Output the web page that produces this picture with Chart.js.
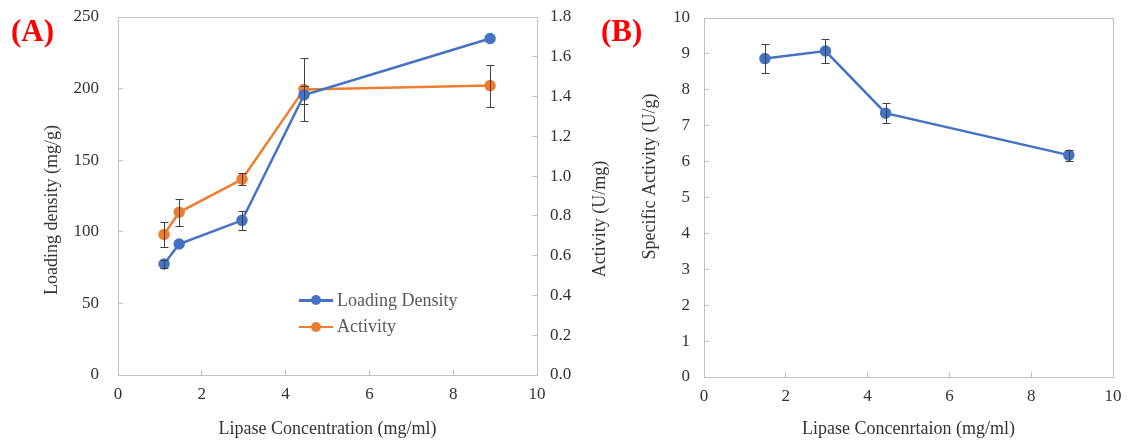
<!DOCTYPE html>
<html>
<head>
<meta charset="utf-8">
<script src="https://cdn.jsdelivr.net/npm/chart.js@4"></script>
<style>
    body { margin: 0; background: #fff; }
    #wrap { position: relative; width: 1134px; height: 440px; overflow: hidden; }
    canvas { position: absolute; top: 0; }
    .tag { position: absolute; font-family: "Liberation Serif", serif; font-weight: bold; font-size: 31px; color: #ff0000; line-height: 1; }
    .legend { position: absolute; left: 299px; top: 287px; font-family: "Liberation Serif", serif; font-size: 18px; color: #595959; }
    .legend .row { display: flex; align-items: center; height: 26.5px; }
    .legend .key { position: relative; width: 34px; height: 2.5px; margin-right: 4px; }
    .legend .key span { position: absolute; left: 12px; top: -4px; width: 10px; height: 10px; border-radius: 50%; }
</style>
</head>
<body>
<div id="wrap">
    <canvas id="chartA" width="620" height="440" style="left:0"></canvas>
    <canvas id="chartB" width="544" height="440" style="left:590px"></canvas>
    <div class="tag" style="left:11px; top:15px">(A)</div>
    <div class="tag" style="left:601px; top:15px">(B)</div>
    <div class="legend">
        <div class="row"><div class="key" style="background:#4472c4"><span style="background:#4472c4"></span></div>Loading Density</div>
        <div class="row"><div class="key" style="background:#ed7d31"><span style="background:#ed7d31"></span></div>Activity</div>
    </div>
</div>
<script>
// Panel A data
const concA = [1.1, 1.46, 2.96, 4.44, 8.88];
const loadingDensity = [77.5, 91.5, 108, 195.5, 235];
const loadingErr = [3, 0, 6.7, 6.3, 0];
const activity = [0.707, 0.818, 0.984, 1.436, 1.455];
const activityErr = [0.062, 0.068, 0.03, 0.157, 0.105];

// Panel B data
const concB = [1.49, 2.97, 4.44, 8.92];
const specificActivity = [8.87, 9.08, 7.35, 6.18];
const specificErr = [0.4, 0.34, 0.28, 0.15];

const serif = '"Liberation Serif", "Times New Roman", serif';
const tickFont = { family: serif, size: 17 };
const titleFont = { family: serif, size: 18 };
const textColor = '#333333';
const axisGray = '#bfbfbf';

const toPoints = (xs, ys) => xs.map((x, i) => ({ x: x, y: ys[i] }));

// Error bars drawn from the scales
const errorBars = {
    id: 'errorBars',
    afterDatasetsDraw(chart) {
        const ctx = chart.ctx;
        const xs = chart.scales.x;
        chart.data.datasets.forEach(ds => {
            if (!ds.errors) return;
            const ys = chart.scales[ds.yAxisID || 'y'];
            ctx.save();
            ctx.strokeStyle = '#404040';
            ctx.lineWidth = 1;
            ds.data.forEach((p, j) => {
                const e = ds.errors[j];
                if (!e) return;
                const px = Math.round(xs.getPixelForValue(p.x)) + 0.5;
                const top = Math.round(ys.getPixelForValue(p.y + e)) + 0.5;
                const bot = Math.round(ys.getPixelForValue(p.y - e)) + 0.5;
                ctx.beginPath();
                ctx.moveTo(px, top); ctx.lineTo(px, bot);
                ctx.moveTo(px - 4, top); ctx.lineTo(px + 4, top);
                ctx.moveTo(px - 4, bot); ctx.lineTo(px + 4, bot);
                ctx.stroke();
            });
            ctx.restore();
        });
    }
};

// Box round the plot area
const frame = {
    id: 'frame',
    beforeDatasetsDraw(chart) {
        const a = chart.chartArea;
        const ctx = chart.ctx;
        ctx.save();
        ctx.strokeStyle = axisGray;
        ctx.lineWidth = 1;
        ctx.strokeRect(Math.round(a.left) + 0.5, Math.round(a.top) + 0.5, Math.round(a.right - a.left), Math.round(a.bottom - a.top));
        ctx.restore();
    }
};

// Vertical axis titles, reading upward, a bit off centre like the original
const sideTitles = {
    id: 'sideTitles',
    afterDraw(chart, args, opts) {
        const ctx = chart.ctx;
        const mid = (chart.chartArea.top + chart.chartArea.bottom) / 2;
        (opts.items || []).forEach(t => {
            ctx.save();
            ctx.translate(t.x, mid + t.dy);
            ctx.rotate(-Math.PI / 2);
            ctx.font = titleFont.size + 'px ' + serif;
            ctx.fillStyle = textColor;
            ctx.textAlign = 'center';
            ctx.textBaseline = 'middle';
            ctx.fillText(t.text, 0, 0);
            ctx.restore();
        });
    }
};

const gridOpts = { drawOnChartArea: false, tickLength: -5, color: axisGray };
const borderOpts = { color: axisGray };

// Fixed axis sizes, no extra label padding
const fixWidth = w => scale => { scale.width = w; scale.paddingTop = 0; scale.paddingBottom = 0; };
const fixHeight = h => scale => { scale.height = h; scale.paddingLeft = 0; scale.paddingRight = 0; };

const lineSet = (label, data, color, errors, axis) => ({
    label: label,
    data: data,
    errors: errors,
    yAxisID: axis,
    borderColor: color,
    backgroundColor: color,
    pointBackgroundColor: color,
    pointBorderColor: color,
    borderWidth: 2.5,
    pointRadius: 4.5,
    lineTension: 0
});

const xAxis = (height, text) => ({
    type: 'linear',
    min: 0,
    max: 10,
    ticks: { stepSize: 2, font: tickFont, color: textColor, padding: 14 },
    grid: gridOpts,
    border: borderOpts,
    title: { display: true, text: text, font: titleFont, color: textColor, padding: { top: 0, bottom: 0 } },
    afterFit: fixHeight(height)
});

// CHART A
const chartA = new Chart('chartA', {
    type: 'line',
    data: {
        datasets: [
            lineSet('Loading Density', toPoints(concA, loadingDensity), '#4472c4', loadingErr, 'y'),
            lineSet('Activity', toPoints(concA, activity), '#ed7d31', activityErr, 'y1')
        ]
    },
    options: {
        responsive: false,
        animation: false,
        devicePixelRatio: 1,
        layout: { padding: { top: 17, left: 0, right: 0, bottom: 0 } },
        scales: {
            x: xAxis(65, 'Lipase Concentration (mg/ml)'),
            y: {
                position: 'left',
                min: 0,
                max: 250,
                ticks: { stepSize: 50, font: tickFont, color: textColor, padding: 24 },
                grid: gridOpts,
                border: borderOpts,
                afterFit: fixWidth(118)
            },
            y1: {
                position: 'right',
                min: 0,
                max: 1.8,
                ticks: { stepSize: 0.2, font: tickFont, color: textColor, padding: 18, callback: v => v.toFixed(1) },
                grid: gridOpts,
                border: borderOpts,
                afterFit: fixWidth(83)
            }
        },
        plugins: {
            legend: { display: false },
            tooltip: { enabled: false },
            sideTitles: {
                items: [
                    { text: 'Loading density (mg/g)', x: 52, dy: 14 },
                    { text: 'Activity (U/mg)', x: 600, dy: 23 }
                ]
            }
        }
    },
    plugins: [frame, errorBars, sideTitles]
});

// CHART B
const chartB = new Chart('chartB', {
    type: 'line',
    data: {
        datasets: [
            lineSet('Specific Activity', toPoints(concB, specificActivity), '#4472c4', specificErr, 'y')
        ]
    },
    options: {
        responsive: false,
        animation: false,
        devicePixelRatio: 1,
        layout: { padding: { top: 18, left: 0, right: 21, bottom: 0 } },
        scales: {
            x: xAxis(63, 'Lipase Concenrtaion (mg/ml)'),
            y: {
                position: 'left',
                min: 0,
                max: 10,
                ticks: { stepSize: 1, font: tickFont, color: textColor, padding: 19 },
                grid: gridOpts,
                border: borderOpts,
                afterFit: fixWidth(114)
            }
        },
        plugins: {
            legend: { display: false },
            tooltip: { enabled: false },
            sideTitles: {
                items: [
                    { text: 'Specific Activity (U/g)', x: 60, dy: -21 }
                ]
            }
        }
    },
    plugins: [frame, errorBars, sideTitles]
});
</script>
</body>
</html>
